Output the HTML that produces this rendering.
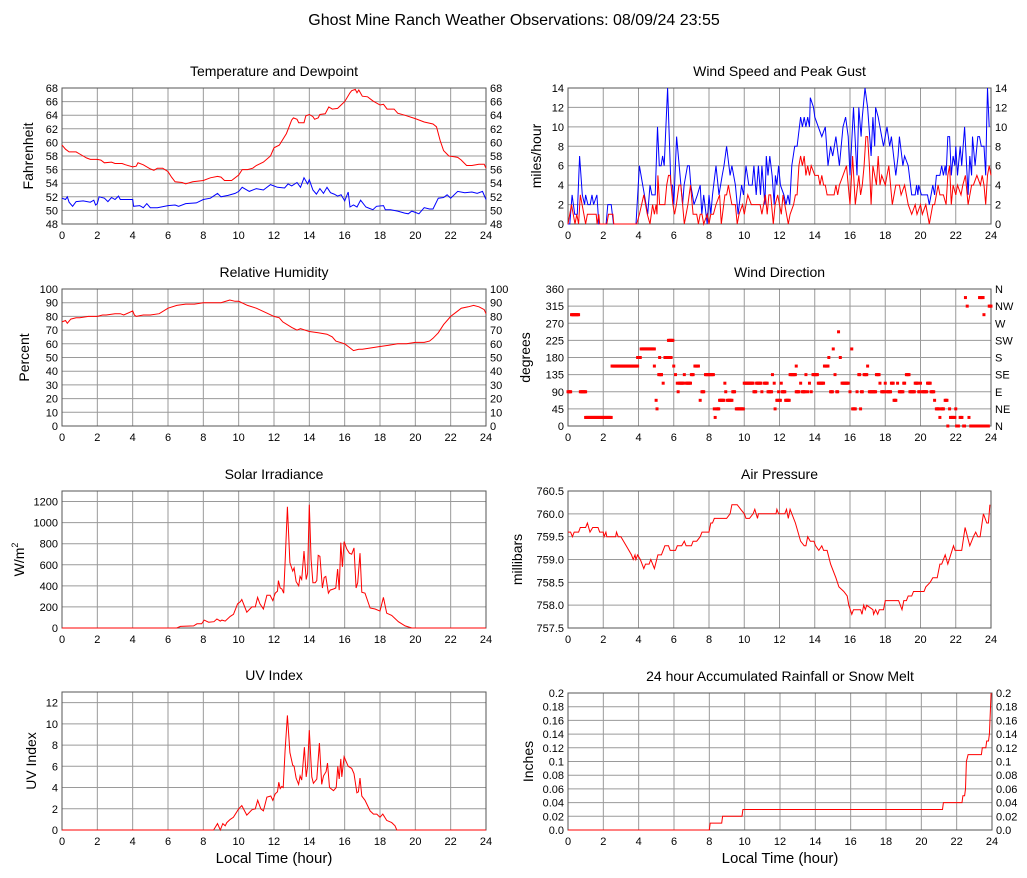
<!DOCTYPE html>
<html><head><meta charset="utf-8"><style>
html,body{margin:0;padding:0;background:#fff;}
svg{display:block;font-family:"Liberation Sans",sans-serif;}
</style></head><body>
<svg id="chart" width="1027" height="878" viewBox="0 0 1027 878" xmlns="http://www.w3.org/2000/svg">
<text x="514" y="25" font-size="16" text-anchor="middle" fill="#000">Ghost Mine Ranch Weather Observations: 08/09/24 23:55</text>
</svg>
<script>
// ---- Temperature & Dewpoint ----
const tempHours=[0,0.2,0.4,0.8,1,1.4,1.6,2,2.2,2.4,2.8,3,3.4,3.6,4,4.2,4.3,4.6,5,5.2,5.4,5.7,6,6.2,6.4,6.8,7,7.4,8,8.4,8.8,9,9.2,9.6,10,10.2,10.5,10.8,11,11.4,11.8,12,12.3,12.7,12.9,13,13.1,13.3,13.4,13.7,13.8,14,14.2,14.3,14.5,14.6,14.9,15.1,15.3,15.6,15.8,16,16.3,16.4,16.6,16.7,16.8,17,17.3,17.6,18,18.2,18.4,18.8,19,19.4,20,20.5,21,21.2,21.4,21.6,21.9,22.2,22.4,22.6,22.9,23.2,23.6,23.9,24];
const tempValues=[59.6,59,58.6,58.6,58.3,57.7,57.5,57.5,57.4,57.0,57.1,56.9,56.9,56.7,56.4,56.5,57.0,56.7,56.1,55.9,56.2,56.2,55.7,54.9,54.2,54.1,53.9,54.2,54.4,54.8,55.0,54.9,54.4,54.4,55.2,56.0,56.0,56.2,56.6,57.1,58.0,59.2,59.6,61.3,62.6,63.3,63.6,63.4,62.9,62.9,63.9,64.1,63.8,63.4,63.6,64.1,64.2,65.2,64.9,65.0,65.5,66.0,67.3,67.6,67.8,67.3,67.7,66.8,66.7,66.1,65.5,65.6,64.9,64.9,64.3,64.0,63.5,63.0,62.7,62.3,60.3,58.8,58.0,57.9,57.8,57.4,56.6,56.6,56.8,56.8,56.2];
const dewHours=[0,0.2,0.3,0.4,0.6,0.8,1.2,1.6,1.8,1.9,2,2.1,2.4,2.6,2.8,3,3.2,3.3,3.6,4,4.05,4.4,4.6,4.8,5,5.4,6,6.4,6.6,7,7.6,8,8.4,8.8,9,9.4,9.8,10,10.2,10.6,11,11.4,11.8,12.2,12.6,12.8,13,13.3,13.5,13.7,13.9,14,14.2,14.4,14.6,14.8,15,15.2,15.4,15.6,15.8,16,16.2,16.3,16.5,16.7,16.9,17.2,17.4,17.6,17.8,18.2,18.3,18.6,19,19.4,19.6,19.8,20,20.2,20.5,20.8,21,21.3,21.6,21.8,22,22.4,22.8,23.2,23.5,23.8,24];
const dewValues=[51.8,51.6,52.0,51.2,50.6,51.3,51.4,51.2,51.5,50.8,51.0,52.0,51.8,51.3,51.9,51.6,52.1,51.6,51.6,51.6,50.6,50.7,50.4,51.0,50.4,50.4,50.7,50.8,50.6,51.0,51.1,51.6,51.8,52.5,52.0,52.2,52.5,52.8,53.4,52.8,53.2,53.0,53.8,53.4,53.3,53.9,53.6,54.1,53.4,54.8,53.9,54.5,53.0,52.4,53.2,52.5,53.4,52.6,52.4,52.1,52.3,51.4,52.7,50.5,50.8,50.5,51.5,50.5,50.3,50.1,50.6,50.7,50.1,50.1,49.9,49.6,49.5,49.9,49.7,49.5,50.4,50.2,50.2,51.8,51.9,52.3,51.8,52.8,52.6,52.7,52.5,52.8,51.6];
const tempTicks=[48,50,52,54,56,58,60,62,64,66,68];
// ---- Wind speed & gust ----
const gustHours=[0,0.1,0.23,0.38,0.53,0.66,0.81,0.94,1.0,1.13,1.26,1.36,1.45,1.64,1.75,2.16,2.26,2.45,2.58,3.86,4.05,4.24,4.43,4.52,4.65,4.76,4.95,5.08,5.18,5.28,5.37,5.46,5.65,5.84,5.93,6.0,6.16,6.31,6.5,6.59,6.78,6.88,6.97,7.15,7.34,7.5,7.59,7.7,7.9,8.0,8.1,8.2,8.4,8.57,8.75,8.85,9.0,9.2,9.3,9.5,9.65,9.85,9.96,10.1,10.26,10.45,10.55,10.68,10.8,10.92,11.0,11.17,11.25,11.35,11.45,11.58,11.7,11.77,11.85,11.95,12.05,12.25,12.37,12.48,12.58,12.7,12.86,13.0,13.2,13.3,13.4,13.5,13.6,13.7,13.75,13.93,14.0,14.2,14.4,14.6,14.75,14.9,15.02,15.2,15.4,15.6,15.75,15.9,16.0,16.2,16.4,16.5,16.63,16.7,16.85,17.0,17.2,17.3,17.4,17.45,17.6,17.8,17.9,18.1,18.25,18.35,18.6,18.73,18.8,19.0,19.1,19.3,19.5,19.7,19.78,19.85,19.9,20.05,20.4,20.5,20.7,20.8,20.9,21.1,21.2,21.3,21.4,21.45,21.55,21.65,21.75,21.85,21.95,22.0,22.1,22.25,22.34,22.5,22.7,22.8,22.9,22.95,23.1,23.25,23.35,23.45,23.6,23.7,23.75,23.8,23.9];
const gustValues=[0,0,3,1,1,7,3,2,3,2,2,3,2,3,0,0,2,2,0,0,6,4,2,1,4,3,3,10,6,6,7,6,14,4,4,2,9,6,2,4,6,6,4,2,3,4,1,3,0,3,1,3,6,3,5,6,8,5,6,4,1,4,3,6,4,4,6,3,6,3,6,2,7,5,7,5,2,5,4,6,4,3,2,3,2,6,8,8,11,10,11,10,11,10,13,12,11,10,9,10,6,8,7,9,6,10,11,9,5,12,5,12,9,11,14,12,7,11,8,12,11,9,8,10,8,9,5,7,9,6,7,6,3,3,4,3,4,3,3,2,4,3,5,5,6,5,6,5,9,9,5,7,6,8,5,8,6,10,3,7,5,9,6,9,9,8,8,5,10,14,10];
const speedHours=[0,0.2,0.4,0.5,0.6,0.7,0.9,1,1.1,1.4,1.6,1.65,1.75,1.8,2.2,2.3,2.55,2.6,3.9,4.05,4.3,4.5,4.65,4.8,4.9,5.0,5.05,5.1,5.2,5.5,5.6,5.7,5.8,5.95,6.05,6.15,6.3,6.4,6.5,6.6,6.8,6.95,7.1,7.3,7.4,7.5,7.6,7.7,7.9,8.0,8.1,8.25,8.4,8.6,8.7,8.9,9.0,9.1,9.2,9.3,9.5,9.6,9.7,9.9,10.0,10.1,10.2,10.4,10.9,11.0,11.1,11.2,11.3,11.4,11.5,11.65,11.75,11.9,12.0,12.1,12.2,12.3,12.4,12.5,12.6,12.8,12.9,13.0,13.1,13.2,13.3,13.4,13.5,13.6,13.7,13.8,14,14.2,14.3,14.4,14.5,14.6,14.7,15.1,15.2,15.3,15.4,15.6,15.8,15.9,16.0,16.15,16.3,16.5,16.6,16.7,16.8,16.9,17.0,17.1,17.2,17.3,17.4,17.5,17.6,17.7,17.8,18.0,18.1,18.2,18.4,18.6,18.8,18.9,19.1,19.3,19.5,19.7,19.8,20,20.1,20.3,20.5,20.7,20.8,21,21.1,21.3,21.45,21.55,21.65,21.75,21.85,22,22.1,22.3,22.4,22.55,22.7,22.9,23.0,23.2,23.4,23.5,23.6,23.7,23.8,23.9,24];
const speedValues=[0,2,0,1,0,3,1,0,1,1,1,0,1,0,0,1,1,0,0,1,3,1,0,2,1,2,1,5,2,2,4,5,5,2,1,2,4,4,2,0,2,4,1,1,0,1,1,0,1,0,1,1,2,3,0,3,3,4,3,2,2,0,1,2,1,2,3,2,2,1,2,3,1,3,3,0,2,3,2,1,3,2,1,0,1,2,3,3,6,7,6,7,5,6,5,6,5,5,4,5,4,4,3,3,4,3,4,5,6,4,2,7,2,5,3,4,6,9,9,6,2,6,5,4,7,4,5,4,5,6,2,4,4,3,4,2,1,2,1,2,1,2,0,2,2,4,3,3,2,5,6,2,4,3,4,3,4,5,2,4,4,5,4,5,4,2,5,6,5];
const windTicks=[0,2,4,6,8,10,12,14];
// ---- Relative humidity ----
const rhHours=[0,0.2,0.3,0.5,0.8,1,1.5,2,2.3,2.5,3,3.3,3.5,4,4.1,4.2,4.6,5,5.5,6,6.5,7,7.5,8,8.5,9,9.5,9.8,10,10.5,11,11.5,12,12.3,12.5,13,13.3,13.5,14,14.5,15,15.3,15.5,16,16.3,16.5,16.8,17,17.5,18,18.5,19,19.5,20,20.5,20.8,21,21.3,21.6,22,22.3,22.6,23,23.3,23.6,23.9,24];
const rhValues=[76,77,75,78,79,79,80,80,81,81,82,82,81,84,81,80,81,81,82,86,88,89,89,90,90,90,92,91,91,88,86,83,80,79,76,72,70,71,69,68,67,65,62,60,57,55,56,56,57,58,59,60,60,61,61,62,64,68,74,80,83,86,87,88,87,85,82];
const rhTicks=[0,10,20,30,40,50,60,70,80,90,100];
// ---- Wind direction (runs of samples) ----
const dirRunStart=[0,0.2,0.7,1.0,2.5,3.95,4.15,4.9,5.0,5.05,5.15,5.2,5.3,5.4,5.5,5.7,6.0,6.1,6.2,6.25,6.3,6.6,6.7,7.0,7.2,7.5,7.6,7.8,8.3,8.35,8.45,8.6,8.9,8.95,9.05,9.35,9.55,10.0,10.55,10.7,11.0,11.15,11.35,11.6,11.7,11.75,11.85,11.95,12.0,12.1,12.15,12.35,12.6,12.95,12.95,13.2,13.3,13.5,13.6,13.7,13.8,13.9,14.2,14.55,14.8,14.9,15.05,15.15,15.25,15.35,15.45,15.55,16.0,16.1,16.15,16.4,16.5,16.6,16.65,16.8,17.0,17.1,17.5,17.7,17.8,18.0,18.1,18.35,18.5,18.7,18.8,19.05,19.2,19.4,19.7,19.9,20.0,20.1,20.4,20.6,20.8,20.9,21.1,21.2,21.4,21.55,21.65,21.7,22.0,22.05,22.25,22.45,22.55,22.65,22.75,22.85,23.35,23.4,23.6,23.7,23.9];
const dirRunEnd=[0.15,0.6,1.0,2.45,3.95,4.1,4.9,4.9,5.0,5.05,5.3,5.2,5.3,5.4,5.85,5.95,6.0,6.1,6.2,6.25,6.55,6.6,6.95,7.1,7.4,7.5,7.7,8.25,8.3,8.35,8.55,8.85,8.9,8.95,9.3,9.45,9.95,10.5,10.65,10.95,11.0,11.3,11.55,11.6,11.7,11.75,11.9,11.95,12.05,12.1,12.3,12.55,12.9,12.95,13.1,13.2,13.45,13.5,13.6,13.7,13.8,14.15,14.5,14.75,14.8,15.0,15.05,15.15,15.3,15.35,15.45,15.9,16.0,16.1,16.3,16.4,16.55,16.6,16.7,16.95,17.0,17.45,17.65,17.7,17.95,18.0,18.3,18.45,18.6,18.7,19.0,19.1,19.35,19.65,19.85,19.95,20.0,20.35,20.55,20.75,20.8,21.05,21.1,21.3,21.5,21.55,21.65,21.95,22.0,22.15,22.35,22.5,22.55,22.65,22.75,23.3,23.55,23.55,23.6,23.85,24];
const dirRunDeg=[90,292.5,90,22.5,157.5,180,202.5,157.5,67.5,45,135,180,135,112.5,180,225,157.5,135,112.5,90,112.5,135,112.5,135,157.5,67.5,90,135,45,22.5,45,67.5,112.5,90,67.5,90,45,112.5,90,112.5,90,112.5,90,135,112.5,45,67.5,90,67.5,112.5,90,67.5,135,157.5,90,112.5,90,135,90,112.5,90,135,112.5,157.5,180,90,202.5,135,90,247.5,180,112.5,90,202.5,45,90,135,45,90,135,157.5,90,135,112.5,90,112.5,90,112.5,67.5,112.5,90,112.5,135,90,112.5,90,112.5,90,112.5,90,67.5,45,22.5,45,67.5,0,45,22.5,45,0,22.5,0,337.5,315,22.5,0,337.5,0,292.5,0,315];
const dirTicks=[0,45,90,135,180,225,270,315,360];
const dirCompass=["N","NE","E","SE","S","SW","W","NW","N"];
// ---- Solar ----
const solarHours=[0,6.5,6.7,7.45,7.64,7.9,8.05,8.3,8.6,8.77,8.96,9.05,9.24,9.52,9.71,9.94,10.1,10.18,10.46,10.75,10.94,11.07,11.2,11.4,11.6,11.78,11.93,12.07,12.2,12.25,12.35,12.45,12.55,12.62,12.76,12.9,13.06,13.14,13.25,13.4,13.48,13.57,13.7,13.82,13.9,14.0,14.1,14.2,14.33,14.42,14.5,14.6,14.74,14.84,14.93,15.08,15.18,15.37,15.5,15.6,15.69,15.78,15.87,15.97,16.12,16.27,16.4,16.53,16.65,16.74,16.87,16.97,17.15,17.44,17.72,18.0,18.19,18.38,18.66,19.04,19.42,19.8,24];
const solarValues=[0,0,15,20,40,40,75,55,60,85,65,75,65,110,130,230,250,270,150,200,200,290,230,180,310,310,260,330,350,450,380,370,330,600,1150,620,540,570,440,400,490,460,730,460,520,1170,650,430,430,450,690,680,380,480,490,330,360,370,380,560,360,810,580,820,750,710,700,760,380,430,710,340,330,190,180,160,290,140,120,60,20,0,0];
const solarTicks=[0,200,400,600,800,1000,1200];
// ---- Pressure ----
const presHours=[0,0.15,0.25,0.35,0.6,0.7,1.0,1.1,1.25,1.4,1.7,1.8,2.0,2.05,2.15,2.2,2.7,2.75,2.85,3.0,3.3,3.6,3.7,3.8,3.85,3.95,4.1,4.3,4.4,4.6,4.7,4.9,5.1,5.3,5.5,5.7,5.8,6.1,6.2,6.45,6.6,6.7,7.0,7.1,7.3,7.5,7.6,8.0,8.1,8.2,8.3,9.0,9.2,9.3,9.6,9.8,10.0,10.1,10.3,10.5,10.6,10.75,10.8,11.8,11.85,11.95,12.3,12.4,12.5,12.6,12.9,13.2,13.4,13.5,13.6,13.75,13.95,14.05,14.23,14.4,14.5,14.7,14.9,15.2,15.37,15.65,15.84,15.93,16.1,16.2,16.6,16.68,16.78,16.87,16.95,17.3,17.34,17.45,17.57,17.66,17.9,18.0,18.2,18.76,18.95,19.05,19.2,19.3,19.5,19.6,20.2,20.3,20.55,20.7,20.95,21.1,21.2,21.4,21.55,21.87,21.96,22.34,22.53,22.8,23.0,23.13,23.25,23.38,23.57,23.76,23.85,23.94];
const presValues=[759.6,759.6,759.5,759.6,759.6,759.7,759.7,759.8,759.6,759.7,759.7,759.6,759.6,759.5,759.6,759.5,759.5,759.6,759.5,759.5,759.3,759.1,759.0,759.1,759.0,759.1,759.0,758.8,758.9,758.9,759.0,758.8,759.1,759.1,759.3,759.3,759.2,759.2,759.3,759.3,759.4,759.3,759.3,759.4,759.4,759.5,759.6,759.6,759.8,759.8,759.9,759.9,760.0,760.2,760.2,760.1,760.0,759.9,759.9,760.0,760.1,759.9,760.0,760.0,760.1,760.0,760.0,760.1,759.9,760.1,759.8,759.4,759.3,759.3,759.5,759.4,759.4,759.3,759.2,759.3,759.2,759.2,758.9,758.6,758.4,758.3,758.2,758.0,757.8,757.9,757.9,757.8,758.0,757.9,758.0,757.9,757.8,757.9,757.8,757.9,757.9,758.1,758.1,758.1,757.9,758.1,758.1,758.2,758.2,758.3,758.3,758.4,758.5,758.6,758.6,758.9,758.9,759.1,758.9,759.3,759.2,759.2,759.7,759.3,759.5,759.6,759.5,759.5,760.0,759.8,759.8,760.2];
const presTicks=[757.5,758.0,758.5,759.0,759.5,760.0,760.5];
// ---- UV ----
const uvHours=[0,8.58,8.8,8.96,9.1,9.24,9.33,9.52,9.7,10.0,10.18,10.46,10.75,10.94,11.08,11.25,11.4,11.6,11.82,11.93,12.07,12.2,12.27,12.35,12.44,12.52,12.63,12.76,12.9,13.06,13.14,13.25,13.39,13.48,13.57,13.72,13.82,13.9,14.0,14.14,14.23,14.42,14.57,14.7,14.8,14.95,15.03,15.14,15.37,15.52,15.61,15.69,15.78,15.84,15.97,16.2,16.4,16.53,16.69,16.78,16.87,16.97,17.15,17.44,17.63,17.82,18.0,18.16,18.38,18.66,18.85,18.95,24];
const uvValues=[0,0,0.6,0,0.6,0.4,0.7,1.0,1.2,2.0,2.3,1.4,1.9,2.0,2.8,2.0,1.8,3.1,3.2,2.8,3.4,3.6,4.5,3.9,4.1,4.0,7.5,10.8,7.3,6.1,6.0,4.9,4.3,5.1,4.7,7.8,5.0,6.0,9.4,5.0,4.4,4.8,8.2,4.3,5.1,5.5,6.3,4.0,3.7,4.0,6.0,4.8,6.7,5.0,6.9,6.0,5.8,5.3,3.5,3.6,4.9,3.2,2.8,1.8,1.5,1.5,1.2,1.5,0.9,0.7,0.4,0,0];
const uvTicks=[0,2,4,6,8,10,12];
// ---- Rain ----
const rainHours=[0,8.0,8.05,8.7,8.75,9.85,9.9,21.2,21.25,22.3,22.35,22.45,22.5,22.55,22.65,23.4,23.45,23.65,23.7,23.8,23.85,23.95];
const rainValues=[0,0,0.01,0.01,0.02,0.02,0.03,0.03,0.04,0.04,0.05,0.05,0.06,0.1,0.11,0.11,0.12,0.12,0.13,0.13,0.14,0.2];
const rainTicks=[0,0.02,0.04,0.06,0.08,0.1,0.12,0.14,0.16,0.18,0.2];
const rainLabels=["0.0","0.02","0.04","0.06","0.08","0.1","0.12","0.14","0.16","0.18","0.2"];
const hourTicks=[0,2,4,6,8,10,12,14,16,18,20,22,24];

const NS="http://www.w3.org/2000/svg";
const svg=document.getElementById('chart');
function mk(tag,attrs,parent){const e=document.createElementNS(NS,tag);for(const k in attrs)e.setAttribute(k,attrs[k]);(parent||svg).appendChild(e);return e;}

function panel(p){
  const g=mk('g',{});
  
  
  const xs=h=>p.x0+(p.x1-p.x0)*h/24;
  const ys=v=>p.yB-(p.yB-p.yT)*(v-p.min)/(p.max-p.min);
  p.xs=xs;p.ys=ys;
  const t=mk('text',{x:(p.x0+p.x1)/2,y:p.yT-12,'font-size':14,'text-anchor':'middle',fill:'#000'},g);
  t.textContent=p.title;
  
  
  // grid
  hourTicks.forEach(h=>{const l=mk('line',{x1:xs(h),x2:xs(h),y1:p.yT,y2:p.yB,stroke:'#9a9a9a','stroke-width':1},g);
    
    const tx=mk('text',{x:xs(h),y:p.yB+15,'font-size':11,'text-anchor':'middle',fill:'#000'},g);tx.textContent=h;
    });
  p.ticks.forEach((v,i)=>{const l=mk('line',{x1:p.x0,x2:p.x1,y1:ys(v),y2:ys(v),stroke:'#9a9a9a','stroke-width':1},g);
    
    const lab=p.labels?p.labels[i]:(p.fmt?p.fmt(v):String(v));
    const tl=mk('text',{x:p.x0-4,y:ys(v)+4,'font-size':11,'text-anchor':'end',fill:'#000'},g);tl.textContent=lab;
    
    if(p.right){const tr=mk('text',{x:p.x1+4,y:ys(v)+4,'font-size':11,'text-anchor':'start',fill:'#000'},g);tr.textContent=p.right[i]!==undefined?p.right[i]:lab;
      }
  });
  const b=mk('rect',{x:p.x0,y:p.yT,width:p.x1-p.x0,height:p.yB-p.yT,fill:'none',stroke:'#555','stroke-width':1},g);
  
  const cy=(p.yT+p.yB)/2;
  const yt=mk('text',{x:p.ytx,y:cy,'font-size':14,'text-anchor':'middle',fill:'#000',transform:`rotate(-90 ${p.ytx} ${cy})`},g);
  yt.textContent=p.ytitle;
  if(p.sup){const s=mk('tspan',{'font-size':9,dy:-6},yt);s.textContent=p.sup;}
  
  if(p.xtitle){const xt=mk('text',{x:(p.x0+p.x1)/2,y:p.yB+33,'font-size':15,'text-anchor':'middle',fill:'#000'},g);xt.textContent=p.xtitle;
    }
  p.g=g;return p;
}
function line(p,hrs,vals,color,name){
  const d=hrs.map((h,i)=>(i?'L':'M')+p.xs(h).toFixed(1)+','+p.ys(vals[i]).toFixed(1)).join('');
  const e=mk('path',{d:d,fill:'none',stroke:color,'stroke-width':1},p.g);
  
  
}
const T={left:[62,486],right:[568,991]};
const rows=[[88,224],[289,426],[491,628],[693,830]];

const p1=panel({name:'temperature-panel',title:'Temperature and Dewpoint',x0:62,x1:486,yT:88,yB:224,min:48,max:68,ticks:tempTicks,right:[],ytitle:'Fahrenheit',ytx:33});
line(p1,tempHours,tempValues,'#ff0000','temperature-line');
line(p1,dewHours,dewValues,'#0000ff','dewpoint-line');

const p2=panel({name:'wind-speed-panel',title:'Wind Speed and Peak Gust',x0:568,x1:991,yT:88,yB:224,min:0,max:14,ticks:windTicks,right:[],ytitle:'miles/hour',ytx:541});
line(p2,gustHours,gustValues,'#0000ff','gust-line');
line(p2,speedHours,speedValues,'#ff0000','speed-line');

const p3=panel({name:'humidity-panel',title:'Relative Humidity',x0:62,x1:486,yT:289,yB:426,min:0,max:100,ticks:rhTicks,right:[],ytitle:'Percent',ytx:29});
line(p3,rhHours,rhValues,'#ff0000','humidity-line');

const p4=panel({name:'wind-direction-panel',title:'Wind Direction',x0:568,x1:991,yT:289,yB:426,min:0,max:360,ticks:dirTicks,right:dirCompass,ytitle:'degrees',ytx:530});
dirRunStart.forEach((s,i)=>{
  for(let h=s;h<=dirRunEnd[i]+1e-6;h+=0.05){
    const r=mk('rect',{x:p4.xs(h)-1.5,y:p4.ys(dirRunDeg[i])-1.5,width:3,height:3,fill:'#ff0000'},p4.g);
    
    
  }
});

const p5=panel({name:'solar-panel',title:'Solar Irradiance',x0:62,x1:486,yT:491,yB:628,min:0,max:1300,ticks:solarTicks,ytitle:'W/m',sup:'2',ytx:24});
line(p5,solarHours,solarValues,'#ff0000','solar-line');

const p6=panel({name:'pressure-panel',title:'Air Pressure',x0:568,x1:991,yT:491,yB:628,min:757.5,max:760.5,ticks:presTicks,fmt:v=>v.toFixed(1),ytitle:'millibars',ytx:522});
line(p6,presHours,presValues,'#ff0000','pressure-line');

const p7=panel({name:'uv-panel',title:'UV Index',x0:62,x1:486,yT:692,yB:830,min:0,max:13,ticks:uvTicks,ytitle:'UV Index',ytx:36,xtitle:'Local Time (hour)'});
line(p7,uvHours,uvValues,'#ff0000','uv-line');

const p8=panel({name:'rain-panel',title:'24 hour Accumulated Rainfall or Snow Melt',x0:568,x1:992,yT:693,yB:830,min:0,max:0.2,ticks:rainTicks,labels:rainLabels,right:rainLabels,ytitle:'Inches',ytx:533,xtitle:'Local Time (hour)'});
line(p8,rainHours,rainValues,'#ff0000','rain-line');
</script>
</body></html>
